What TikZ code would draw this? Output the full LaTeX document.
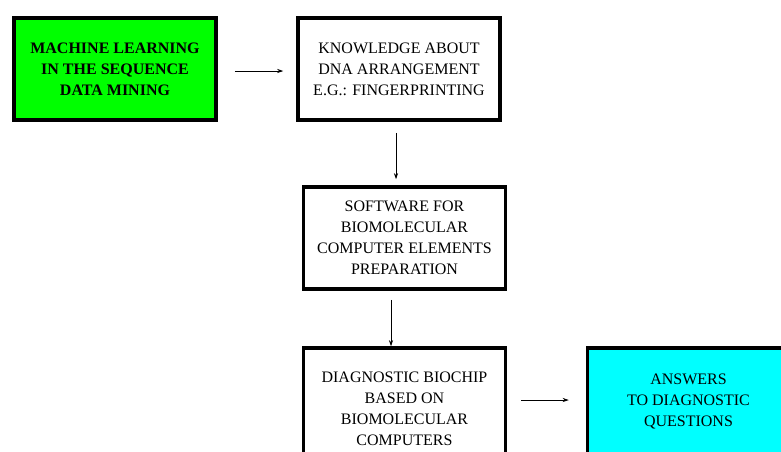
\documentclass[tikz,border=0pt]{standalone}
\usepackage{fontspec}
\setmainfont{Liberation Serif}
\usetikzlibrary{positioning,arrows.meta}
\definecolor{limegreen}{RGB}{0,255,0}
\definecolor{aqua}{RGB}{0,255,255}
\tikzset{
  % Specifications for style of nodes:
  base/.style = {
    rectangle,
    draw=black,
    line width=3.5pt,
    align=center,
    inner sep=2pt,
    minimum width=202pt,
    minimum height=102pt,
    font=\fontsize{16}{21}\selectfont
  },
  source/.style = {
    base,
    fill=limegreen,
    font=\fontsize{16}{21}\selectfont\bfseries
  },
  stage/.style = {
    base,
    fill=white
  },
  answer/.style = {
    base,
    fill=aqua
  },
  flow/.style = {
    -{Stealth[length=6pt,width=4pt]},
    line width=0.7pt
  },
}

\begin{document}
\begin{tikzpicture}
    \useasboundingbox (0,0) rectangle (781pt,-451pt);
    % Specification of nodes (position, etc.)
    \node[source] (mining) at (115pt,-69pt)
      {MACHINE LEARNING\\IN THE SEQUENCE\\DATA MINING};
    \node[stage, right=78.5pt of mining] (knowledge)
      {KNOWLEDGE ABOUT\\DNA ARRANGEMENT\\E.G.: FINGERPRINTING};
    \node[stage, below=63.5pt of knowledge, xshift=5.5pt] (software)
      {SOFTWARE FOR\\BIOMOLECULAR\\COMPUTER ELEMENTS\\PREPARATION};
    \node[stage, below=55.5pt of software, minimum height=122pt] (biochip)
      {DIAGNOSTIC BIOCHIP\\BASED ON\\BIOMOLECULAR\\COMPUTERS};
    \node[answer, right=78.5pt of biochip.north east, anchor=north west,
          minimum height=122pt, text depth=18pt] (answers)
      {ANSWERS\\TO DIAGNOSTIC\\QUESTIONS};
    \coordinate (answersin) at ([yshift=-53.75pt]answers.north west);
    % Arrows
    \draw[flow, shorten <=17pt, shorten >=13pt]
      ([yshift=-2pt]mining.east) -- ([yshift=-2pt]knowledge.west);
    \draw[flow, shorten <=11pt, shorten >=6pt]
      ([xshift=-3pt]knowledge.south) -- ([xshift=-3pt]knowledge.south |- software.north);
    \draw[flow, shorten <=9pt]
      ([xshift=-13.5pt]software.south) -- ([xshift=-13.5pt]software.south |- biochip.north);
    \draw[flow, shorten <=14pt, shorten >=17pt]
      (biochip.east |- answersin) -- (answersin);
  \end{tikzpicture}
\end{document}
